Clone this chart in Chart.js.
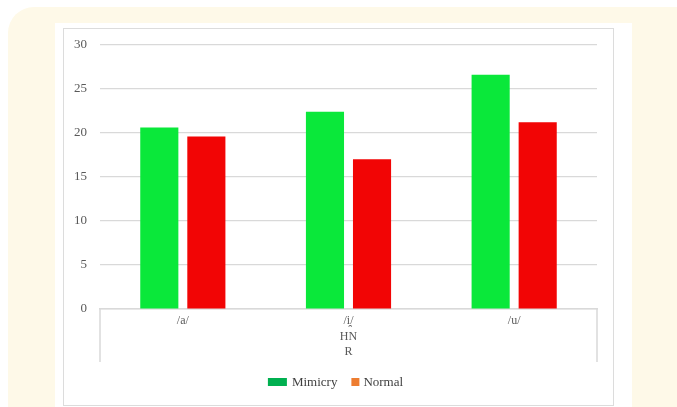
<!DOCTYPE html>
<html>
<head>
<meta charset="utf-8">
<script src="https://cdn.jsdelivr.net/npm/chart.js@4"></script>
<style>
  html, body { margin: 0; padding: 0; background: #ffffff; width: 677px; height: 407px; overflow: hidden; }
  #cream { position: absolute; left: 8px; top: 7px; width: 720px; height: 440px; background: #FEF9E8; border-radius: 26px; }
  #panel { position: absolute; left: 55px; top: 23px; width: 577px; height: 400px; background: #ffffff; }
  #frame { position: absolute; left: 63px; top: 28px; width: 549px; height: 376px; border: 1px solid #dcdcdc; background: #ffffff; }
  #c { position: absolute; left: 64px; top: 24px; }
</style>
</head>
<body>
<div id="cream"></div>
<div id="panel"></div>
<div id="frame"></div>
<canvas id="c" width="549" height="381"></canvas>
<script>
const categories = [['/a/'], ['/i̯/', 'HN', 'R'], ['/u/']];
const mimicry = [20.6, 22.4, 26.6];
const normal = [19.6, 17.0, 21.2];
const seriesNames = ['Mimicry', 'Normal'];
const legendColors = ['#00B050', '#ED7D31'];
const yTicks = [0, 5, 10, 15, 20, 25, 30];

const serif = "'Liberation Serif', 'Times New Roman', serif";

const groupLines = {
  id: 'groupLines',
  afterDraw(chart) {
    const { ctx, chartArea } = chart;
    ctx.save();
    ctx.strokeStyle = '#d9d9d9';
    ctx.lineWidth = 1.5;
    [chartArea.left, chartArea.right].forEach(x => {
      ctx.beginPath();
      ctx.moveTo(x, chartArea.bottom);
      ctx.lineTo(x, chartArea.bottom + 53);
      ctx.stroke();
    });
    ctx.restore();
  }
};

const excelLegend = {
  id: 'excelLegend',
  afterDraw(chart) {
    const { ctx } = chart;
    const swatchSizes = [[19, 8], [8, 8]];
    const textGap = [5, 4];
    const itemGap = 14;
    ctx.save();
    ctx.font = '13px ' + serif;
    ctx.textBaseline = 'middle';
    const widths = chart.data.datasets.map((ds, i) =>
      swatchSizes[i][0] + textGap[i] + ctx.measureText(ds.label).width);
    const total = widths.reduce((a, b) => a + b, 0) + itemGap * (widths.length - 1);
    let x = (chart.width - total) / 2 - 3;
    const yc = chart.chartArea.bottom + 73;
    chart.data.datasets.forEach((ds, i) => {
      const [w, h] = swatchSizes[i];
      ctx.fillStyle = legendColors[i];
      ctx.fillRect(x, Math.round(yc - h / 2), w, h);
      ctx.fillStyle = '#404040';
      ctx.fillText(ds.label, x + w + textGap[i], yc + 1);
      x += widths[i] + itemGap;
    });
    ctx.restore();
  }
};

new Chart(document.getElementById('c'), {
  type: 'bar',
  data: {
    labels: categories,
    datasets: [
      { label: seriesNames[0], data: mimicry, backgroundColor: '#0AE83A' },
      { label: seriesNames[1], data: normal, backgroundColor: '#F20505' }
    ]
  },
  options: {
    responsive: false,
    animation: false,
    devicePixelRatio: 1,
    layout: { padding: { top: 0, right: 16, left: 0, bottom: 35 } },
    datasets: { bar: { categoryPercentage: 0.568, barPercentage: 0.81 } },
    plugins: {
      tooltip: { enabled: false },
      legend: { display: false }
    },
    scales: {
      x: {
        grid: { display: false, drawTicks: false },
        border: { display: true, color: '#d9d9d9', width: 1.5 },
        ticks: {
          color: '#595959',
          padding: 4,
          maxRotation: 0,
          font: { family: serif, size: 12, lineHeight: 1.3 }
        },
        afterFit(s) { s.height = 61; }
      },
      y: {
        min: 0,
        max: 30,
        afterBuildTicks(s) { s.ticks = yTicks.map(v => ({ value: v })); },
        grid: { color: '#d9d9d9', lineWidth: 1.2, drawTicks: false },
        border: { display: false },
        ticks: {
          color: '#595959',
          padding: 13,
          font: { family: serif, size: 13 }
        },
        afterFit(s) { s.width = 36; }
      }
    }
  },
  plugins: [groupLines, excelLegend]
});
</script>
</body>
</html>
